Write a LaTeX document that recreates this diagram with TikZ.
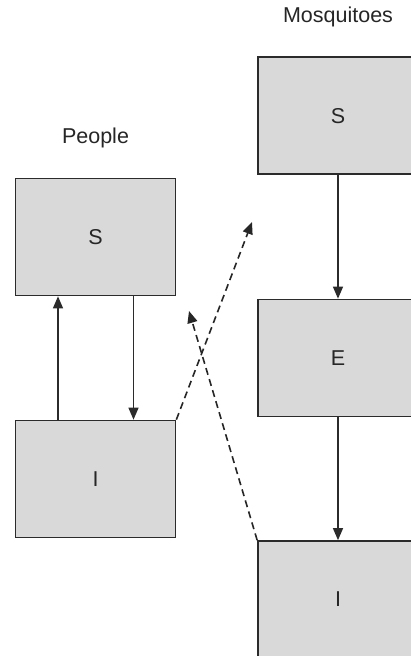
\documentclass[tikz,border=0pt]{standalone}
\usepackage{fontspec}
\setmainfont{Liberation Sans}
\usetikzlibrary{arrows.meta}
\definecolor{boxgray}{HTML}{D9D9D9}
\definecolor{linegray}{HTML}{2B2B2B}
\tikzset{
  stagebox/.style={draw=linegray, fill=boxgray, line width=1.7pt, minimum width=160pt, minimum height=117pt, inner sep=0pt, text=black!85, font=\fontsize{21.5pt}{24pt}\selectfont},
  grouplabel/.style={font=\fontsize{21.5pt}{24pt}\selectfont, inner sep=0pt, text=black!85},
  flow/.style={draw=linegray, line width=1.3pt, -{Triangle[length=12pt,width=10pt]}},
  contact/.style={draw=black!85, line width=1.6pt, dash pattern=on 7pt off 4.5pt, -{Triangle[length=12pt,width=10pt]}}
}
\begin{document}
\begin{tikzpicture}[x=1pt,y=-1pt]
\clip (0,0) rectangle (411,656);
\fill[white] (0,0) rectangle (411,656);
\node[grouplabel] (peoplelbl) at (95.5,138) {People};
\node[grouplabel] (mosqlbl) at (338,17) {Mosquitoes};
\node[stagebox] (pS) at (95.5,237) {S};
\node[stagebox] (pI) at (95.5,479) {I};
\node[stagebox] (mS) at (338,115.7) {S};
\node[stagebox] (mE) at (338,358) {E};
\node[stagebox] (mI) at (338,599.5) {I};
\draw[flow] ([xshift=-37.5pt]pI.north) -- ([xshift=-37.5pt]pS.south);
\draw[flow] ([xshift=38pt]pS.south) -- ([xshift=38pt]pI.north);
\draw[flow] (mS.south) -- (mE.north);
\draw[flow] (mE.south) -- (mI.north);
\coordinate (tipA) at (252,222);
\coordinate (tipB) at (189,311);
\draw[contact] (pI.north east) -- (tipA);
\draw[contact] (mI.north west) -- (tipB);
\end{tikzpicture}
\end{document}
